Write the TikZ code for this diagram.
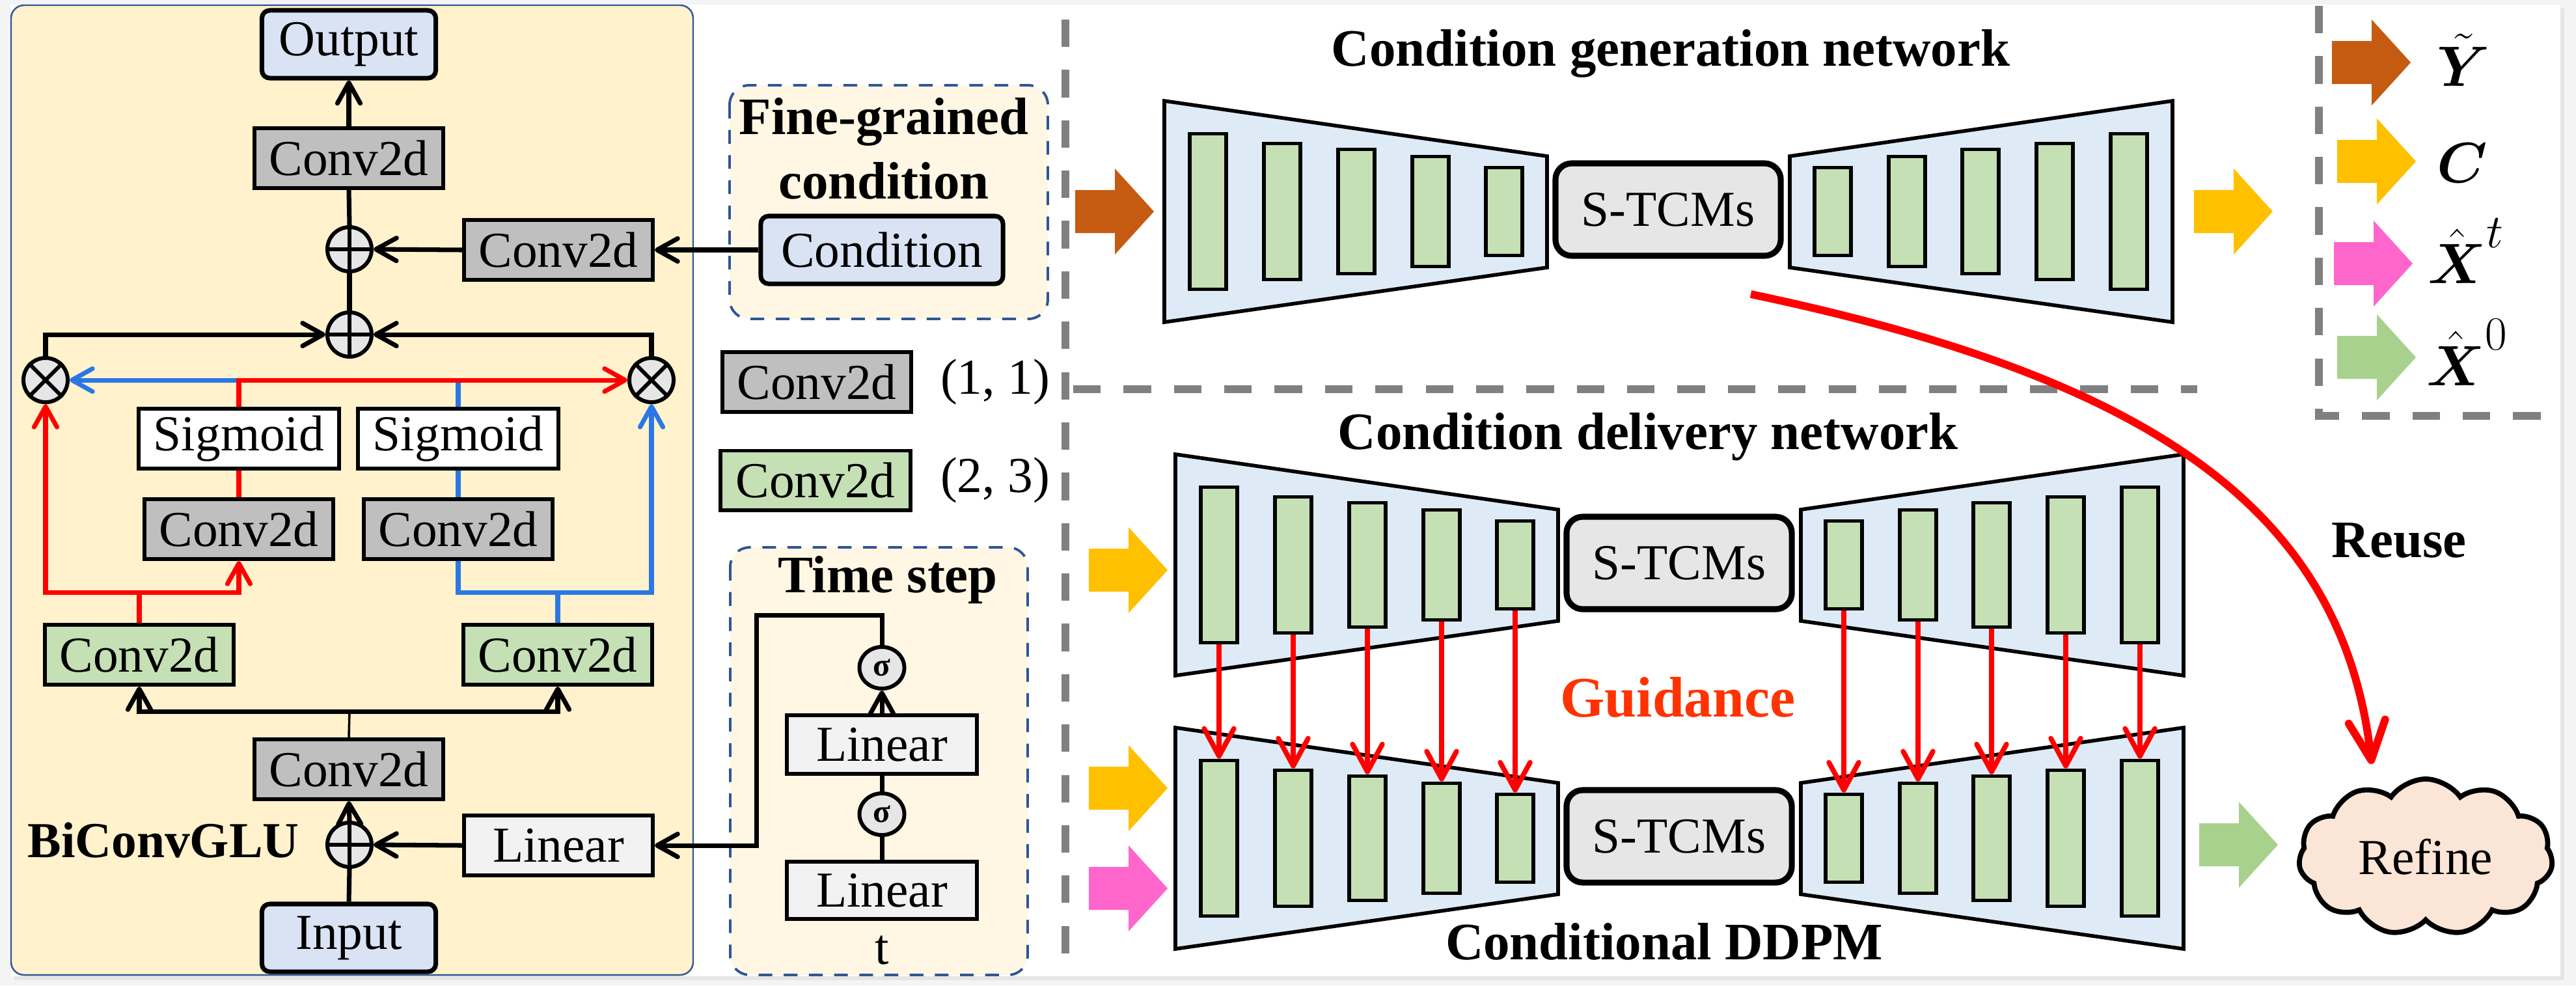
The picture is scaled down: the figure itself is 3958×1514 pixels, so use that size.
\documentclass[tikz,border=0pt]{standalone}
\usepackage{amsmath}
\usepackage{amssymb}
\usepackage{fontspec}
\setmainfont{Liberation Serif}
\usepackage{tikz}
\usetikzlibrary{shapes.geometric, shapes.symbols, arrows.meta, positioning, calc}

\definecolor{panelfill}{HTML}{FFF2CC}
\definecolor{panelline}{HTML}{2F5597}
\definecolor{boxfill}{HTML}{FFF7E4}
\definecolor{iofill}{HTML}{DAE3F3}
\definecolor{graybox}{HTML}{BFBFBF}
\definecolor{greenbox}{HTML}{C5E0B4}
\definecolor{linfill}{HTML}{F2F2F2}
\definecolor{opfill}{HTML}{E7E6E6}
\definecolor{trapfill}{HTML}{DEEBF7}
\definecolor{glublue}{HTML}{2B78E4}
\definecolor{guidered}{HTML}{FF3300}
\definecolor{sepgray}{HTML}{808080}
\definecolor{brownarr}{HTML}{C55A11}
\definecolor{yellowarr}{HTML}{FFC000}
\definecolor{pinkarr}{HTML}{FF66CC}
\definecolor{greenarr}{HTML}{A9D18E}
\definecolor{cloudfill}{HTML}{FBE5D6}
\definecolor{pageback}{HTML}{F4F4F4}

\tikzstyle{io} = [rectangle, rounded corners=0.12cm, minimum width=2.67cm, minimum height=1.04cm, inner sep=0pt, draw=black, line width=2pt, fill=iofill]
\tikzstyle{conv} = [rectangle, minimum width=2.9cm, minimum height=0.92cm, inner sep=0pt, draw=black, line width=1.7pt, fill=graybox]
\tikzstyle{convg} = [conv, fill=greenbox]
\tikzstyle{sigm} = [conv, minimum width=3.07cm, fill=white]
\tikzstyle{lin} = [conv, fill=linfill]
\tikzstyle{opnode} = [circle, minimum size=0.68cm, inner sep=0pt, draw=black, line width=1.7pt, fill=opfill]
\tikzstyle{act} = [ellipse, minimum width=0.69cm, minimum height=0.64cm, inner sep=0pt, draw=black, line width=1.7pt, fill=opfill, font=\fontsize{14}{14}\selectfont\bfseries]
\tikzstyle{trap} = [draw=black, line width=1.6pt, fill=trapfill]
\tikzstyle{featbar} = [rectangle, minimum width=0.56cm, inner sep=0pt, draw=black, line width=1.6pt, fill=greenbox]
\tikzstyle{tcm} = [rectangle, rounded corners=0.25cm, minimum width=3.46cm, minimum height=1.42cm, draw=black, line width=2.6pt, fill=opfill]
\tikzstyle{dashbox} = [draw=panelline, line width=1.1pt, dash pattern=on 6pt off 5pt, fill=boxfill, rounded corners=0.3cm]
\tikzstyle{sepline} = [draw=sepgray, line width=3.4pt, dash pattern=on 12pt off 10pt]
\tikzstyle{wire} = [line width=2pt]
\tikzstyle{arrow} = [line width=2pt, -{Straight Barb[round, length=9pt, width=10pt]}]
\tikzstyle{guide} = [red, line width=2.2pt, -{Straight Barb[round, length=12pt, width=13pt]}]
\tikzstyle{reuse} = [red, line width=3.4pt, -{Straight Barb[round, length=17pt, width=16pt]}]
\tikzstyle{heading} = [font=\fontsize{23}{27.5}\selectfont\bfseries]

\newcommand{\fatarrow}[3]{\fill[#1] (#2,#3) ++(0,-33) -- ++(61,0) -- ++(0,-33) -- ++(60,66) -- ++(-60,66) -- ++(0,-33) -- ++(-61,0) -- cycle;}

\begin{document}
\begin{tikzpicture}[x=0.01cm, y=-0.01cm, font=\fontsize{22}{26}\selectfont]
% page
\fill[pageback] (0,0) rectangle (3958,1514);
\fill[black!10] (22,13) rectangle (3940,1506);
\fill[white] (16,7) rectangle (3934,1500);

% BiConvGLU block
\draw[draw=panelline, line width=0.7pt, fill=panelfill, rounded corners=0.2cm] (17,8) rectangle (1065,1498);
\node[io] (out) at (536,68) {Output};
\node[conv] (convtop) at (536,243) {Conv2d};
\node[opnode] (add1) at (537,383) {};
\node[conv] (convc) at (858,384) {Conv2d};
\node[opnode] (add2) at (537,514) {};
\node[opnode] (mull) at (70,584) {};
\node[opnode] (mulr) at (1001,584) {};
\node[sigm] (sigl) at (367,674) {Sigmoid};
\node[sigm] (sigr) at (704,674) {Sigmoid};
\node[conv] (gatel) at (367,813) {Conv2d};
\node[conv] (gater) at (704,813) {Conv2d};
\node[convg] (featl) at (214,1006) {Conv2d};
\node[convg] (featr) at (857,1006) {Conv2d};
\node[conv] (convin) at (536,1182) {Conv2d};
\node[opnode] (add3) at (537,1298) {};
\node[lin] (lintime) at (858,1299) {Linear};
\node[io] (inp) at (536,1441) {Input};
\node[font=\fontsize{22}{26}\selectfont\bfseries, anchor=base] (glu) at (251,1317) {BiConvGLU};

\foreach \n in {add1, add2, add3}
  \draw[line width=1.7pt] (\n.north) -- (\n.south) (\n.west) -- (\n.east);
\foreach \n in {mull, mulr}
  \draw[line width=1.7pt] (\n.north west) -- (\n.south east) (\n.north east) -- (\n.south west);

\draw [arrow] (convtop.north) -- (out.south);
\draw [wire] (add1.north) -- (convtop.south);
\draw [wire] (add2.north) -- (add1.south);
\draw [arrow] (convc.west) -- (add1.east);
\draw [arrow] (mull.north) |- (add2.west);
\draw [arrow] (mulr.north) |- (add2.east);
\coordinate (split) at (537,1093);
\draw [line width=1pt] (convin.north) -- (split);
\draw [arrow] (split) -| (featl.south);
\draw [arrow] (split) -| (featr.south);
\draw [arrow] (add3.north) -- (convin.south);
\draw [wire] (inp.north) -- (add3.south);
\draw [arrow] (lintime.west) -- (add3.east);

% gate branches
\coordinate (rsplit) at (214,910);
\coordinate (bsplit) at (857,910);
\draw [glublue, arrow] (sigr.north) |- (mull.east);
\draw [glublue, wire] (featr.north) -- (bsplit);
\draw [glublue, wire] (bsplit) -| (gater.south);
\draw [glublue, arrow] (bsplit) -| (mulr.south);
\draw [glublue, wire] (gater.north) -- (sigr.south);
\draw [red, arrow] (sigl.north) |- (mulr.west);
\draw [red, wire] (featl.north) -- (rsplit);
\draw [red, arrow] (rsplit) -| (gatel.south);
\draw [red, arrow] (rsplit) -| (mull.south);
\draw [red, wire] (gatel.north) -- (sigl.south);

% condition input
\draw[dashbox] (1121,131) rectangle (1610,490);
\node[heading, anchor=base] (fgtitle) at (1358,206) {Fine-grained};
\node[heading, anchor=base] (fgtitle2) at (1358,305) {condition};
\node[io, minimum width=3.72cm] (cond) at (1355,384) {Condition};
\draw [arrow] (cond.west) -- (convc.east);

% kernel legend
\node[conv] (legconv) at (1255,587) {Conv2d};
\node (legconvtxt) at (1529,587) {(1, 1)};
\node[convg, minimum width=2.91cm, minimum height=0.91cm] (legfeat) at (1253,738) {Conv2d};
\node (legfeattxt) at (1529,738) {(2, 3)};

% time step
\draw[dashbox] (1122,841) rectangle (1579,1498);
\node[heading, anchor=base] (tstitle) at (1364,910) {Time step};
\node[act] (act1) at (1355,1026) {σ};
\node[lin, minimum width=2.92cm, minimum height=0.9cm] (linup) at (1355,1144) {Linear};
\node[act] (act2) at (1355,1251) {σ};
\node[lin, minimum width=2.92cm, minimum height=0.88cm] (lindown) at (1355,1368) {Linear};
\node (tin) at (1355,1460) {t};
\draw [arrow] (linup.north) -- (act1.south);
\draw [wire] (act2.north) -- (linup.south);
\draw [wire] (lindown.north) -- (act2.south);
\coordinate (tcorner) at (1162,945);
\draw [arrow] (act1.north) |- (tcorner) |- (lintime.east);

% separators
\draw[sepline] (1637,30) -- (1637,1492);
\draw[sepline] (1649,598) -- (3376,598);
\draw[sepline] (3563,9) -- (3563,639) -- (3934,639);

% networks
\foreach \nn/\dx/\dy in {g/0/0, d/17/543, c/17/963} {
  \begin{scope}[shift={(\dx,\dy)}]
    \draw[trap] (1789,155) -- (2377,240) -- (2377,411) -- (1789,495) -- cycle;
    \draw[trap] (2750,240) -- (3338,155) -- (3338,495) -- (2750,411) -- cycle;
    \node[tcm] (\nn-tcm) at (2563,322) {S-TCMs};
    \foreach \i/\bx/\bh in {1/1856/2.39, 2/1970/2.09, 3/2084/1.91, 4/2198/1.69, 5/2311/1.35}
      \node[featbar, minimum height=\bh cm] (\nn-e\i) at (\bx,325) {};
    \foreach \i/\bx/\bh in {1/2816/1.35, 2/2930/1.69, 3/3043/1.91, 4/3157/2.09, 5/3271/2.39}
      \node[featbar, minimum height=\bh cm] (\nn-d\i) at (\bx,325) {};
  \end{scope}
}
\node[heading, anchor=base] (gtitle) at (2567,101) {Condition generation network};
\node[heading, anchor=base] (dtitle) at (2532,690) {Condition delivery network};
\node[heading, anchor=base] (ctitle) at (2557,1474) {Conditional DDPM};
\node[font=\fontsize{25}{28}\selectfont\bfseries, text=guidered, anchor=base] (guidance) at (2578,1101) {Guidance};

\foreach \i in {1,...,5} {
  \draw [guide] (d-e\i.south) -- (c-e\i.north);
  \draw [guide] (d-d\i.south) -- (c-d\i.north);
}

% inputs and outputs
\fatarrow{brownarr}{1652}{325}
\fatarrow{yellowarr}{3371}{325}
\fatarrow{yellowarr}{1673}{876}
\fatarrow{yellowarr}{1673}{1211}
\fatarrow{pinkarr}{1673}{1365}
\fatarrow{greenarr}{3379}{1298}

% legend
\fatarrow{brownarr}{3583}{96}
\fatarrow{yellowarr}{3591}{248}
\fatarrow{pinkarr}{3586}{405}
\fatarrow{greenarr}{3591}{549}
\node[font=\fontsize{28}{30}\selectfont, anchor=base west] (ly) at (3732,132) {$\tilde{\boldsymbol{Y}}$};
\node[font=\fontsize{28}{30}\selectfont, anchor=base west] (lc) at (3732,280) {$\boldsymbol{C}$};
\node[font=\fontsize{28}{30}\selectfont, anchor=base west] (lxt) at (3718,435) {$\hat{\boldsymbol{X}}^{t}$};
\node[font=\fontsize{28}{30}\selectfont, anchor=base west] (lx0) at (3716,592) {$\hat{\boldsymbol{X}}^{0}$};

% refine
\node[cloud, cloud puffs=11, cloud puff arc=110, aspect=1.6, minimum width=3.9cm, minimum height=2.4cm, inner sep=0pt, draw=black, line width=2.2pt, fill=cloudfill] (refine) at (3727,1317) {Refine};
\coordinate (reusestart) at (2690,452);
\coordinate (reuseend) at (3644,1174);
\draw [reuse] (reusestart) .. controls (3300,580) and (3600,780) .. (reuseend);
\node[heading, anchor=base] (reusetxt) at (3686,856) {Reuse};
\end{tikzpicture}
\end{document}
